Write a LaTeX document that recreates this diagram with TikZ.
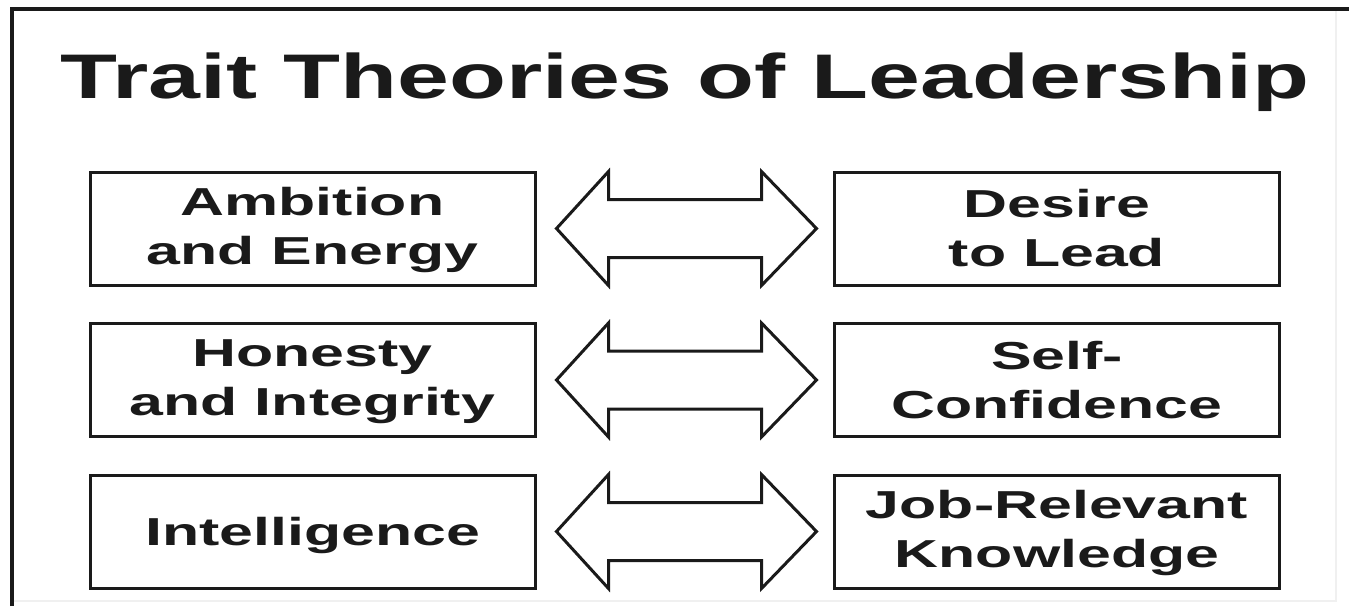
\documentclass[tikz,border=0pt]{standalone}
\usepackage{fontspec}
\usetikzlibrary{calc}
\newfontfamily\titlefont{Liberation Sans}[FakeStretch=1.48]
\newfontfamily\boxfont{Liberation Sans}[FakeStretch=1.56]
\definecolor{ink}{HTML}{1A1A1A}
\tikzset{
  tbox/.style={draw=ink, line width=3pt, minimum width=445pt, minimum height=113pt,
    inner sep=0pt, align=center, text=ink,
    font=\boxfont\bfseries\fontsize{39}{49}\selectfont},
  dblarrow/.style={draw=ink, line width=3pt, line join=miter, fill=white},
  frameline/.style={draw=ink, line width=4pt}
}
\begin{document}
\begin{tikzpicture}[x=1pt,y=-1pt]
\useasboundingbox (0,0) rectangle (1349,606);
\fill[white] (0,0) rectangle (1349,606);
% frame
\draw[gray!12, line width=1.5pt] (14,601) -- (1336,601) -- (1336,11);
\draw[frameline] (12,606) -- (12,8.5) -- (1349,8.5);
% title
\node[font=\titlefont\bfseries\fontsize{63}{70}\selectfont, text=ink, anchor=base, inner sep=0pt] (title) at (685,98) {Trait Theories of Leadership};
% boxes
\node[tbox] (L1) at (312.5,228.5) {\rule{0pt}{31pt}Ambition\\and Energy};
\node[tbox] (R1) at (1057,228.5) {Desire\\to Lead};
\node[tbox] (L2) at (312.5,380) {\rule{0pt}{31pt}Honesty\\and Integrity};
\node[tbox] (R2) at (1057,380) {Self-\\Confidence};
\node[tbox] (L3) at (312.5,531.5) {\rule{0pt}{37pt}Intelligence};
\node[tbox] (R3) at (1057,531.5) {\rule{0pt}{31pt}Job-Relevant\\Knowledge};
% double arrows
\foreach \a in {L1,L2,L3}{
  \draw[dblarrow] ($(\a.east)+(20,0)$) -- ++(52,-57) -- ++(0,28) -- ++(153,0) -- ++(0,-28)
    -- ++(55,57) -- ++(-55,57) -- ++(0,-28) -- ++(-153,0) -- ++(0,28) -- cycle;
}
\end{tikzpicture}
\end{document}
